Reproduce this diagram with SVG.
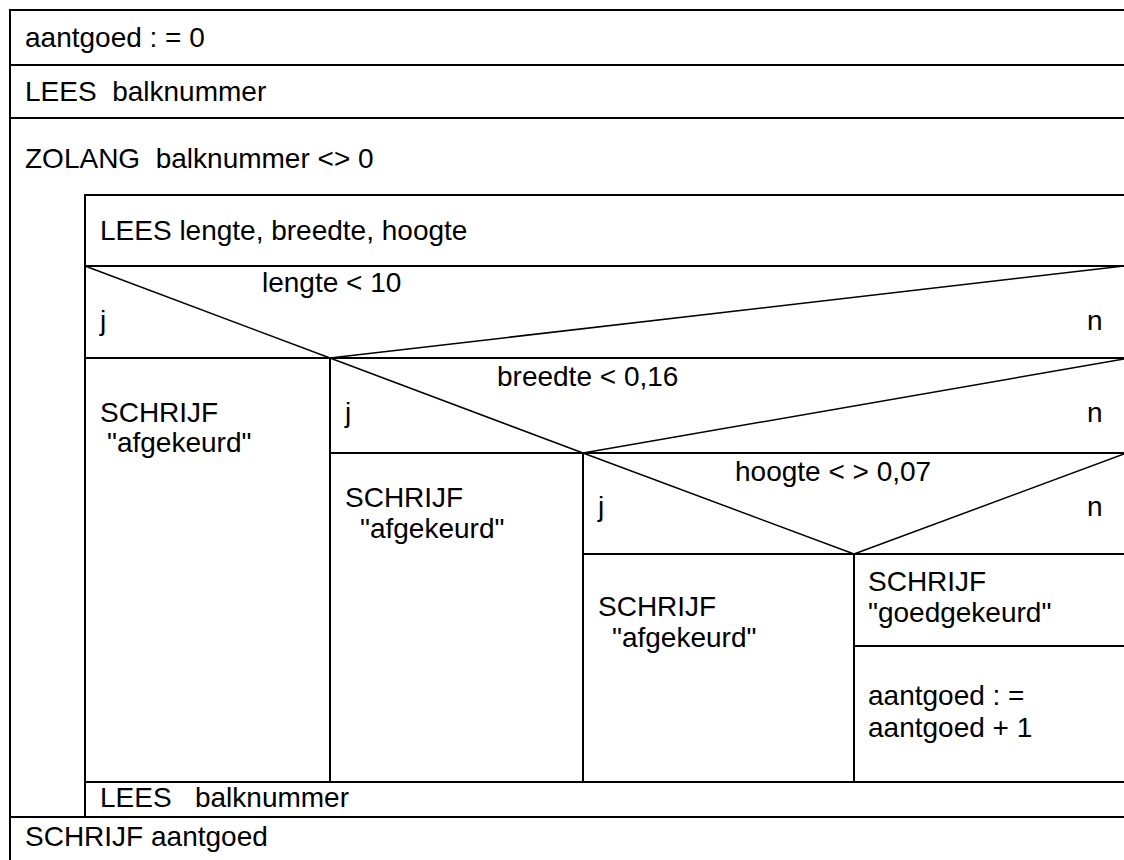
<svg xmlns="http://www.w3.org/2000/svg" width="1124" height="860" viewBox="0 0 1124 860">
<style>
  .ln { stroke: #000; stroke-width: 2; fill: none; stroke-linecap: square; }
  .dg { stroke: #000; stroke-width: 1.5; fill: none; }
  text { font-family: "Liberation Sans", Arial, sans-serif; font-size: 28px; fill: #000; white-space: pre; }
</style>
<rect width="1124" height="860" fill="#fff"/>
<g id="connectors">
  <line class="ln" x1="10" y1="10" x2="10" y2="860"/>
  <line class="ln" x1="10" y1="10" x2="1124" y2="10"/>
  <line class="ln" x1="10" y1="65" x2="1124" y2="65"/>
  <line class="ln" x1="10" y1="118" x2="1124" y2="118"/>
  <line class="ln" x1="85" y1="195" x2="85" y2="817"/>
  <line class="ln" x1="85" y1="195" x2="1124" y2="195"/>
  <line class="ln" x1="85" y1="266" x2="1124" y2="266"/>
  <line class="dg" x1="85" y1="266" x2="330" y2="358"/>
  <line class="dg" x1="330" y1="358" x2="1124" y2="266"/>
  <line class="ln" x1="85" y1="358" x2="1124" y2="358"/>
  <line class="ln" x1="330" y1="358" x2="330" y2="782"/>
  <line class="dg" x1="330" y1="358" x2="583" y2="453"/>
  <line class="dg" x1="583" y1="453" x2="1124" y2="359"/>
  <line class="ln" x1="330" y1="453" x2="1124" y2="453"/>
  <line class="ln" x1="583" y1="453" x2="583" y2="782"/>
  <line class="dg" x1="583" y1="453" x2="854" y2="554"/>
  <line class="dg" x1="854" y1="554" x2="1124" y2="454"/>
  <line class="ln" x1="583" y1="554" x2="1124" y2="554"/>
  <line class="ln" x1="854" y1="554" x2="854" y2="782"/>
  <line class="ln" x1="854" y1="646" x2="1124" y2="646"/>
  <line class="ln" x1="85" y1="782" x2="1124" y2="782"/>
  <line class="ln" x1="10" y1="817" x2="1124" y2="817"/>
</g>
<g id="init"><text x="25" y="47">aantgoed : = 0</text></g>
<g id="read1"><text x="25" y="101">LEES  balknummer</text></g>
<g id="loop"><text x="25" y="168">ZOLANG  balknummer &lt;&gt; 0</text></g>
<g id="read2"><text x="100" y="240">LEES lengte, breedte, hoogte</text></g>
<g id="cond1">
  <text x="262" y="292">lengte &lt; 10</text>
  <text x="100" y="330">j</text>
  <text x="1087" y="330">n</text>
</g>
<g id="write1">
  <text x="100" y="422">SCHRIJF</text>
  <text x="107" y="452">"afgekeurd"</text>
</g>
<g id="cond2">
  <text x="497" y="386">breedte &lt; 0,16</text>
  <text x="345" y="422">j</text>
  <text x="1087" y="422">n</text>
</g>
<g id="write2">
  <text x="345" y="507">SCHRIJF</text>
  <text x="360" y="538">"afgekeurd"</text>
</g>
<g id="cond3">
  <text x="735" y="481">hoogte &lt; &gt; 0,07</text>
  <text x="598" y="516">j</text>
  <text x="1087" y="516">n</text>
</g>
<g id="write3">
  <text x="598" y="616">SCHRIJF</text>
  <text x="612" y="647">"afgekeurd"</text>
</g>
<g id="write4">
  <text x="868" y="591">SCHRIJF</text>
  <text x="868" y="622">"goedgekeurd"</text>
</g>
<g id="incr">
  <text x="868" y="705">aantgoed : =</text>
  <text x="868" y="737">aantgoed + 1</text>
</g>
<g id="read3"><text x="100" y="807">LEES   balknummer</text></g>
<g id="write5"><text x="25" y="846">SCHRIJF aantgoed</text></g>
</svg>
